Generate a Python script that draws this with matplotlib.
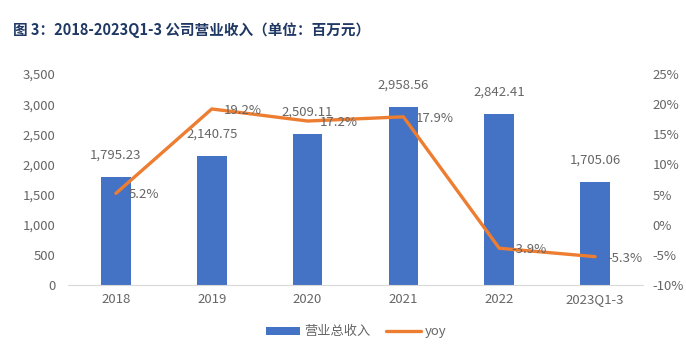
import numpy as np
import matplotlib
matplotlib.use('Agg')
import matplotlib.pyplot as plt
from matplotlib.ticker import FuncFormatter

plt.rcParams['font.family'] = ['Noto Sans CJK SC', 'DejaVu Sans']

# ======= Data =======
years = ['2018', '2019', '2020', '2021', '2022', '2023Q1-3']
revenue = [1795.23, 2140.75, 2509.11, 2958.56, 2842.41, 1705.06]
yoy = [5.2, 19.2, 17.2, 17.9, -3.9, -5.3]

bar_color = '#4472C4'
line_color = '#ED7D31'
text_color = '#666666'

fig = plt.figure(figsize=(6.86, 3.48), dpi=100)
ax = fig.add_axes([68 / 686, 1 - 285 / 348, 575 / 686, 211 / 348])
ax2 = ax.twinx()

x = np.arange(len(years))
bars = ax.bar(x, revenue, width=0.31, color=bar_color, label='营业总收入', zorder=2)
line, = ax2.plot(x, yoy, color=line_color, linewidth=2.4, label='yoy',
                 solid_capstyle='round', zorder=3)

ax.set_xlim(-0.5, len(years) - 0.5)
ax.set_ylim(0, 3500)
ax.set_yticks(np.arange(0, 3501, 500))
ax.yaxis.set_major_formatter(FuncFormatter(lambda v, p: f'{v:,.0f}'))
ax2.set_ylim(-10, 25)
ax2.set_yticks(np.arange(-10, 26, 5))
ax2.yaxis.set_major_formatter(FuncFormatter(lambda v, p: f'{v:.0f}%'))

ax.set_xticks(x)
ax.set_xticklabels(years)

for a in (ax, ax2):
    for s in ('top', 'right', 'left'):
        a.spines[s].set_visible(False)
    a.spines['bottom'].set_color('#D9D9D9')
    a.tick_params(length=0, labelsize=9.5, colors=text_color)
ax2.spines['bottom'].set_visible(False)
ax.tick_params(axis='x', pad=6)
ax.tick_params(axis='y', pad=9)
ax2.tick_params(axis='y', pad=7)

# bar value labels
for xi, v in zip(x, revenue):
    ax.annotate(f'{v:,.2f}', (xi, v), xytext=(0, 11), textcoords='offset points',
                ha='center', va='bottom', fontsize=9.5, color=text_color, zorder=4)

# yoy labels
for xi, v in zip(x, yoy):
    ax2.annotate(f'{v:.1f}%', (xi, v), xytext=(9, -1), textcoords='offset points',
                 ha='left', va='center', fontsize=9.5, color=text_color, zorder=4)

fig.text(13 / 686, 1 - 30 / 348, '图 3：2018-2023Q1-3 公司营业收入（单位：百万元）',
         fontsize=10.5, fontweight='bold', color='#1F3864', va='center')

fig.legend([bars, line], ['营业总收入', 'yoy'], loc='center',
           bbox_to_anchor=(356 / 686, 1 - 332 / 348), ncol=2, frameon=False,
           fontsize=9.5, labelcolor=text_color, handlelength=2.6,
           handleheight=0.5, columnspacing=1.2, handletextpad=0.3)

fig.savefig('out.png', dpi=100)
